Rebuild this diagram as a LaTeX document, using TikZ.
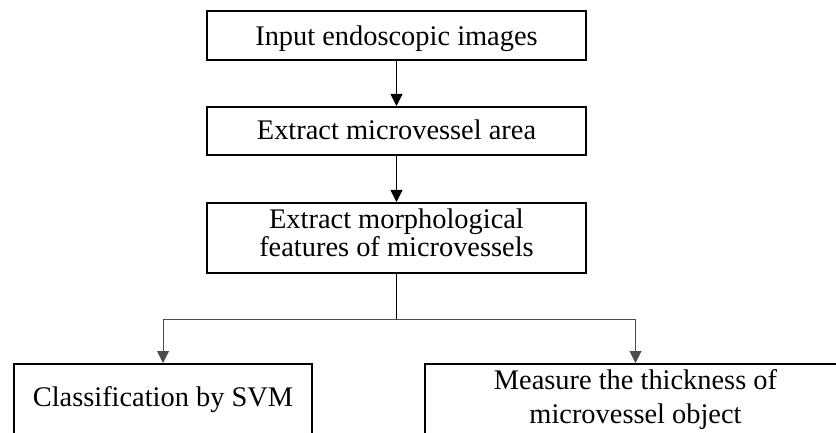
\documentclass[tikz,border=0pt]{standalone}
\usepackage{fontspec}
\setmainfont{Liberation Serif}
\usetikzlibrary{arrows.meta}
\begin{document}
\begin{tikzpicture}[x=1pt,y=-1pt,
  box/.style={draw=black, line width=2pt, rectangle, inner sep=0pt},
  boxtext/.style={font=\fontsize{28.4}{28.4}\selectfont, inner sep=0pt, align=center},
  stem/.style={draw=black, line width=1pt},
  link/.style={stem, -{Triangle[width=12pt,length=12pt]}},
  branch/.style={link, draw=black!70},
]
\useasboundingbox (0,0) rectangle (836,433);
\clip (0,0) rectangle (836,433);

% process boxes
\node[box, minimum width=379pt, minimum height=49pt] (b1) at (396.5,35.5) {};
\node[box, minimum width=379pt, minimum height=48pt] (b2) at (396.5,131) {};
\node[box, minimum width=379pt, minimum height=70pt] (b3) at (396.5,238) {};
\node[box, minimum width=298pt, minimum height=120pt] (b4) at (163,424) {};
\node[box, minimum width=421pt, minimum height=120pt] (b5) at (635.5,424) {};

% box labels (the base anchor of a two-line label sits on its last line)
\node[boxtext, anchor=base] (t1) at (396.5,46) {Input endoscopic images};
\node[boxtext, anchor=base] (t2) at (396.5,139.5) {Extract microvessel area};
\node[boxtext, anchor=base] (t3) at (396.5,256.7) {Extract morphological\\features of microvessels};
\node[boxtext, anchor=base] (t4) at (163,406) {Classification by SVM};
\node[boxtext, font=\fontsize{28.4}{34}\selectfont, anchor=base] (t5) at (635.5,423) {Measure the thickness of\\microvessel object};

% connectors
\draw[link] (b1.south) -- (b2.north);
\draw[link] (b2.south) -- (b3.north);
\coordinate (fork) at (396.5,319);
\draw[stem] (b3.south) -- (fork);
\draw[branch] (fork) -| (b4.north);
\draw[branch] (fork) -| (b5.north);
\end{tikzpicture}
\end{document}
